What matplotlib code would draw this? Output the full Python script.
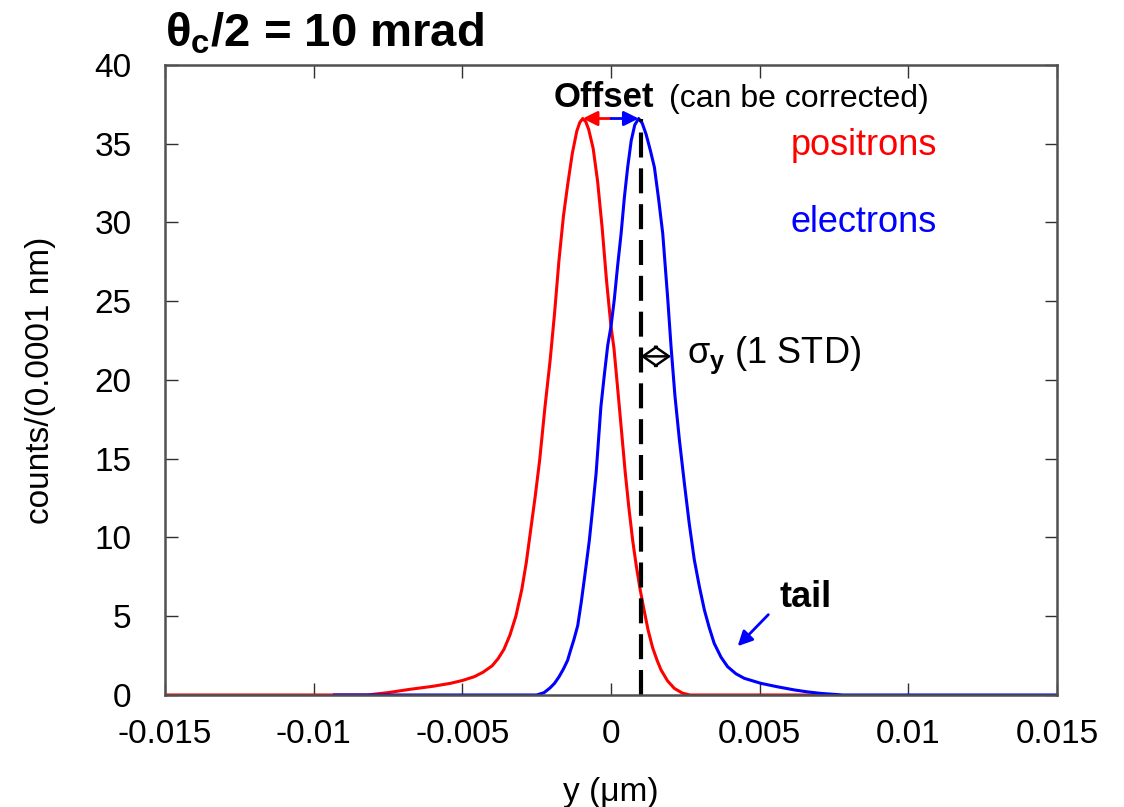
import matplotlib
matplotlib.use('Agg')
import matplotlib.pyplot as plt

plt.rcParams['font.family'] = ['Liberation Sans', 'DejaVu Sans']
plt.rcParams['mathtext.fontset'] = 'custom'
plt.rcParams['mathtext.rm'] = 'Liberation Sans'
plt.rcParams['mathtext.bf'] = 'Liberation Sans:bold'
plt.rcParams['mathtext.it'] = 'Liberation Sans:italic'

# positrons (red)
pos_y = [-0.0150, -0.0082, -0.0075, -0.0068, -0.0060, -0.0054, -0.0050, -0.0046,
         -0.0043, -0.0040, -0.0038, -0.0036, -0.0034, -0.0032, -0.0030, -0.00285,
         -0.00270, -0.00255, -0.00240, -0.00222, -0.00205, -0.00190, -0.00175,
         -0.00160, -0.00145, -0.00130, -0.00115, -0.00105, -0.00095, -0.00085,
         -0.00075, -0.00060, -0.00045, -0.00030, -0.00015, 0.00000, 0.00010,
         0.00028, 0.00048, 0.00060, 0.00073, 0.00085, 0.00098, 0.00110, 0.00125,
         0.00140, 0.00155, 0.00168, 0.00190, 0.00213, 0.00240, 0.00265, 0.0075]
pos_counts = [0, 0, 0.15, 0.35, 0.55, 0.74, 0.92, 1.16,
              1.45, 1.85, 2.3, 2.9, 3.8, 5.0, 6.7, 8.4,
              10.5, 12.6, 14.9, 18.3, 21.2, 24.2, 27.6,
              30.4, 32.5, 34.4, 35.8, 36.35, 36.6, 36.4,
              35.9, 34.7, 32.6, 29.7, 26.3, 23.4, 22.0,
              18.3, 14.1, 11.9, 9.8, 8.2, 6.7, 5.5, 4.1,
              3.0, 2.2, 1.6, 0.9, 0.42, 0.12, 0, 0]

# electrons (blue)
ele_y = [-0.0093, -0.00250, -0.00225, -0.00205, -0.00190, -0.00175, -0.00160,
         -0.00146, -0.00135, -0.00125, -0.00112, -0.00100, -0.00088, -0.00073,
         -0.00062, -0.00050, -0.00034, -0.00022, -0.00011, 0.00000, 0.00011,
         0.00022, 0.00034, 0.00045, 0.00056, 0.00068, 0.00080, 0.00093, 0.00105,
         0.00118, 0.00132, 0.00146, 0.00160, 0.00174, 0.00191, 0.00202, 0.00215,
         0.00230, 0.00247, 0.00263, 0.00280, 0.00297, 0.00314, 0.00330, 0.00347,
         0.00370, 0.00392, 0.00420, 0.00448, 0.00504, 0.0056, 0.00617, 0.0066,
         0.00706, 0.0078, 0.015]
ele_counts = [0, 0, 0.15, 0.45, 0.74, 1.15, 1.65,
              2.2, 2.9, 3.5, 4.4, 5.9, 7.6, 9.8,
              11.8, 14.1, 18.3, 20.4, 22.2, 23.4, 25.1,
              27.2, 29.3, 31.6, 33.5, 35.2, 36.2, 36.6, 36.3,
              35.6, 34.6, 33.5, 31.5, 29.3, 25.1, 22.1, 19.0,
              16.2, 13.4, 10.9, 8.6, 6.9, 5.4, 4.3, 3.28,
              2.4, 1.8, 1.35, 1.06, 0.74, 0.52, 0.32, 0.2,
              0.1, 0, 0]

x_ticks = [-0.015, -0.01, -0.005, 0, 0.005, 0.01, 0.015]
x_labels = ['-0.015', '-0.01', '-0.005', '0', '0.005', '0.01', '0.015']
y_ticks = [0, 5, 10, 15, 20, 25, 30, 35, 40]

peak = 36.6
offset_x = 0.001
sigma_x = 0.00202
sigma_level = 21.5

fig = plt.figure(figsize=(11.24, 8.07), dpi=100)
ax = fig.add_axes([0.1468, 0.1388, 0.7936, 0.7807])

ax.plot(pos_y, pos_counts, color='#ff0000', lw=2.2)
ax.plot(ele_y, ele_counts, color='#0000ff', lw=2.2)

# dashed line at the electron peak
ax.plot([offset_x, offset_x], [0, peak], color='black', lw=3, dashes=(6, 2.6))

# offset arrows
ax.annotate('', xy=(-0.00095, peak), xytext=(0, peak),
            arrowprops=dict(arrowstyle='-|>', color='#ff0000', lw=2, mutation_scale=22,
                            shrinkA=0, shrinkB=0))
ax.annotate('', xy=(0.00093, peak), xytext=(0, peak),
            arrowprops=dict(arrowstyle='-|>', color='#0000ff', lw=2, mutation_scale=22,
                            shrinkA=0, shrinkB=0))

# sigma arrow
ax.annotate('', xy=(sigma_x, sigma_level), xytext=(offset_x, sigma_level),
            arrowprops=dict(arrowstyle='<->,head_length=0.5,head_width=0.35',
                            color='black', lw=1.8, mutation_scale=20,
                            shrinkA=0, shrinkB=0))

# tail arrow
ax.annotate('', xy=(0.00426, 3.1), xytext=(0.00529, 5.1),
            arrowprops=dict(arrowstyle='-|>', color='#0000ff', lw=2, mutation_scale=22,
                            shrinkA=0, shrinkB=0))

ax.text(-0.00192, 37.3, 'Offset', fontsize=25, fontweight='bold', va='baseline')
ax.text(0.00195, 37.3, '(can be corrected)', fontsize=23, va='baseline')
ax.text(0.00605, 34.3, 'positrons', fontsize=26, color='#ff0000', va='baseline')
ax.text(0.00605, 29.4, 'electrons', fontsize=26, color='#0000ff', va='baseline')
ax.text(0.00256, 21.1, r'σ$_\mathbf{y}$ (1 STD)', fontsize=26, va='baseline')
ax.text(0.00565, 5.6, 'tail', fontsize=26, fontweight='bold', va='baseline')

fig.text(165 / 1124, 1 - 47 / 807, r'θ$_\mathbf{c}$/2 = 10 mrad', fontsize=34,
         fontweight='bold', va='baseline')

ax.set_xlim(-0.015, 0.015)
ax.set_ylim(0, 40)
ax.set_xticks(x_ticks)
ax.set_xticklabels(x_labels)
ax.set_yticks(y_ticks)
ax.tick_params(direction='in', length=9, width=1, labelsize=24, top=True, right=True,
               color='#303030')
ax.tick_params(axis='x', pad=17)
ax.tick_params(axis='y', pad=24)
for s in ax.spines.values():
    s.set_linewidth(1.8)
    s.set_color('#505050')

ax.set_xlabel('y (μm)', fontsize=24, labelpad=20)
ax.set_ylabel('counts/(0.0001 nm)', fontsize=24, labelpad=28)

fig.savefig('out.png', dpi=100)
